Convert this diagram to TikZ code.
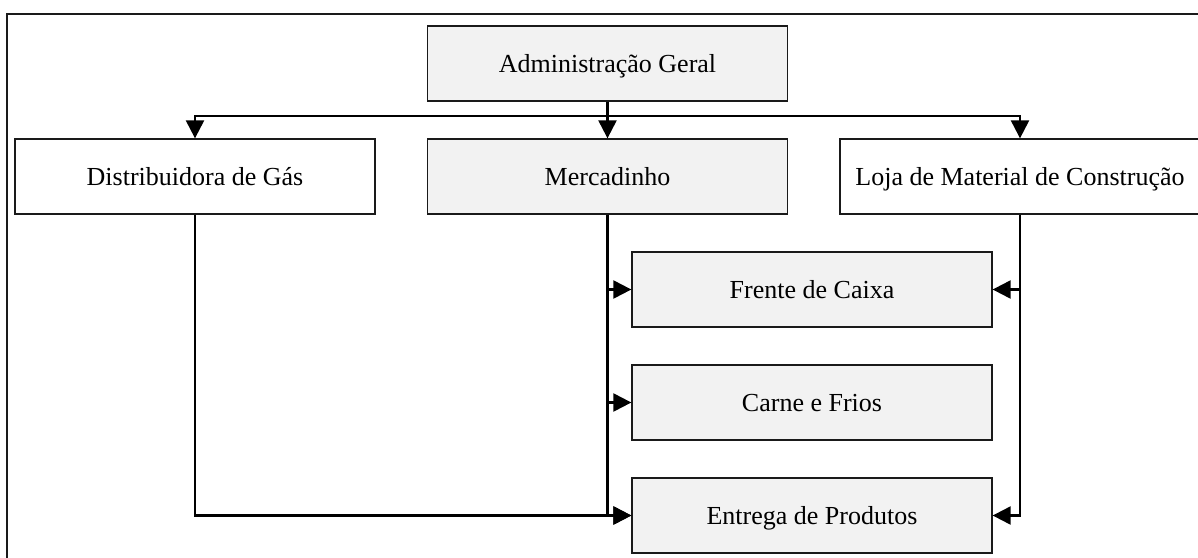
\documentclass[tikz,border=0pt]{standalone}
\usepackage{fontspec}
\setmainfont{Liberation Serif}
\usetikzlibrary{arrows.meta}
\definecolor{boxgray}{HTML}{F2F2F2}
\definecolor{edge}{HTML}{1A1A1A}
\tikzset{
  unit/.style={draw=edge, line width=0.65pt, minimum width=180pt, minimum height=37.5pt,
    inner sep=0pt, text height=8.6pt, text depth=0pt,
    font=\fontsize{13pt}{15pt}\selectfont},
  shaded/.style={unit, fill=boxgray},
  plain/.style={unit, fill=white},
  link/.style={line width=1.1pt, -{Triangle[length=9pt,width=9pt]}},
  wire/.style={line width=1.1pt}
}
\begin{document}
\begin{tikzpicture}[x=0.5pt, y=-0.5pt]
  \useasboundingbox (0,0) rectangle (1198,557);
  % outer frame
  \begin{scope}
    \clip (0,0) rectangle (1198,557);
    \draw[line width=0.65pt, draw=edge] (7,14) rectangle (1210,570);
  \end{scope}
  % boxes
  \node[shaded] (adm) at (607.5,63.5) {Administração Geral};
  \node[plain]  (dist) at (195,176.5) {Distribuidora de Gás};
  \node[shaded] (merc) at (607.5,176.5) {Mercadinho};
  \node[plain]  (loja) at (1020,176.5) {Loja de Material de Construção};
  \node[shaded] (frente) at (812,289.5) {Frente de Caixa};
  \node[shaded] (carne) at (812,402.5) {Carne e Frios};
  \node[shaded] (entrega) at (812,515.5) {Entrega de Produtos};
  % top-level distribution
  \coordinate (bus) at (607.5,116);
  \draw[wire] (adm.south) -- (bus);
  \draw[link] (bus) -| (dist.north);
  \draw[link] (bus) -| (loja.north);
  \draw[link] (bus) -- (merc.north);
  % Mercadinho branches
  \draw[link] (merc.south) |- (frente.west);
  \draw[link] (merc.south) |- (carne.west);
  \draw[link] (merc.south) |- (entrega.west);
  % Distribuidora de Gás branch
  \draw[link] (dist.south) |- (entrega.west);
  % Loja branches
  \draw[link] (loja.south) |- (frente.east);
  \draw[link] (loja.south) |- (entrega.east);
\end{tikzpicture}
\end{document}
